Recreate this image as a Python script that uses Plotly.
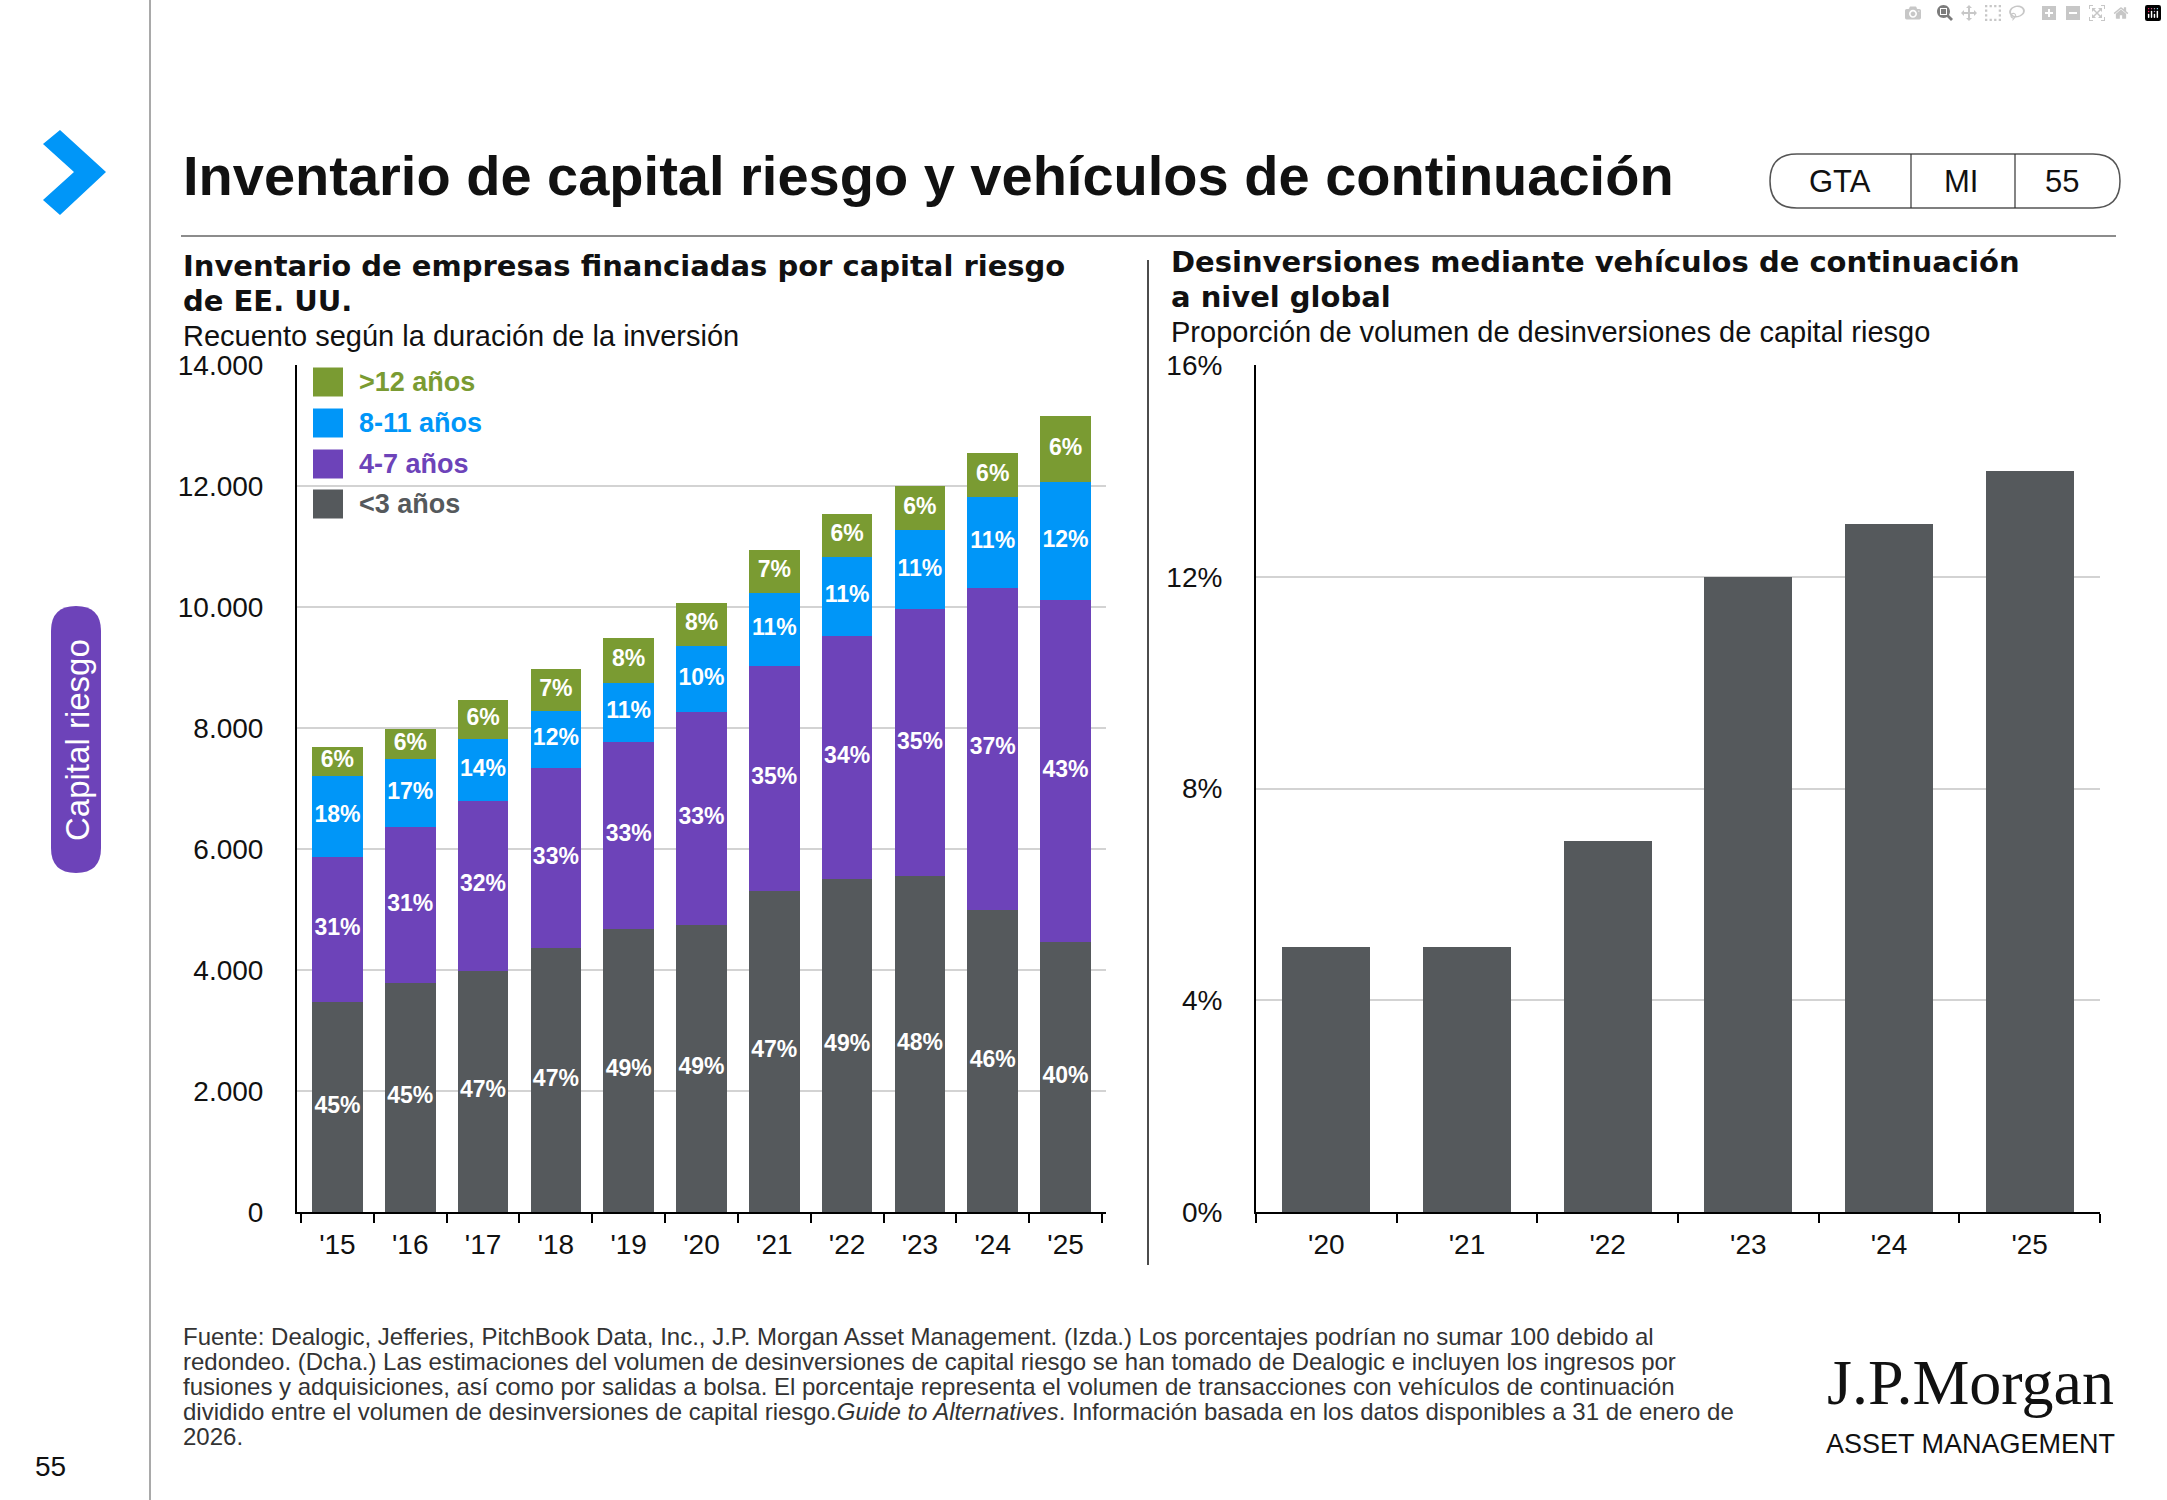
import numpy as np
import plotly.graph_objects as go

W, H = 2167, 1500

# ---------------- DATA ----------------
years_left = ["'15", "'16", "'17", "'18", "'19", "'20", "'21", "'22", "'23", "'24", "'25"]
lt3_vals = [3470, 3780, 3990, 4370, 4670, 4750, 5310, 5500, 5550, 5000, 4460]
y4_7_vals = [2400, 2590, 2810, 2970, 3100, 3510, 3720, 4020, 4410, 5320, 5650]
y8_11_vals = [1340, 1110, 1020, 940, 980, 1100, 1200, 1300, 1310, 1500, 1950]
gt12_vals = [480, 510, 650, 700, 730, 700, 710, 720, 730, 720, 1090]

lt3_lbl = ["45%", "45%", "47%", "47%", "49%", "49%", "47%", "49%", "48%", "46%", "40%"]
y4_7_lbl = ["31%", "31%", "32%", "33%", "33%", "33%", "35%", "34%", "35%", "37%", "43%"]
y8_11_lbl = ["18%", "17%", "14%", "12%", "11%", "10%", "11%", "11%", "11%", "11%", "12%"]
gt12_lbl = ["6%", "6%", "6%", "7%", "8%", "8%", "7%", "6%", "6%", "6%", "6%"]

series_names = ["<3 años", "4-7 años", "8-11 años", ">12 años"]
left_ticks = [0, 2000, 4000, 6000, 8000, 10000, 12000, 14000]
left_ticktext = ["0", "2.000", "4.000", "6.000", "8.000", "10.000", "12.000", "14.000"]

years_right = ["'20", "'21", "'22", "'23", "'24", "'25"]
cv_share = [5, 5, 7, 12, 13, 14]
right_ticks = [0, 4, 8, 12, 16]
right_ticktext = ["0%", "4%", "8%", "12%", "16%"]

# ---------------- STYLE ----------------
FONT = "Liberation Sans, Arial, sans-serif"
FONT_WIDE = "DejaVu Sans, Liberation Sans, Arial, sans-serif"
C_GRAY = "#55595c"
C_PURPLE = "#6d43b9"
C_BLUE = "#0096f8"
C_GREEN = "#7a9b32"
colors = [C_GRAY, C_PURPLE, C_BLUE, C_GREEN]


def X(p):
    return p / W


def Y(p):
    return 1 - p / H


fig = go.Figure()

stack = [lt3_vals, y4_7_vals, y8_11_vals, gt12_vals]
labels = [lt3_lbl, y4_7_lbl, y8_11_lbl, gt12_lbl]
base = np.zeros(len(years_left))
for vals, lbl, name, col in zip(stack, labels, series_names, colors):
    v = np.array(vals, dtype=float)
    fig.add_trace(go.Bar(x=years_left, y=v, name=name, marker=dict(color=col, line=dict(width=0)),
                         xaxis="x", yaxis="y", hoverinfo="skip"))
    fig.add_trace(go.Scatter(x=years_left, y=base + v / 2, mode="text", text=lbl,
                             texttemplate="<b>%{text}</b>",
                             textfont=dict(family=FONT, size=23, color="white"),
                             xaxis="x", yaxis="y", hoverinfo="skip", cliponaxis=False))
    base = base + v

fig.add_trace(go.Bar(x=years_right, y=cv_share, marker=dict(color=C_GRAY, line=dict(width=0)),
                     xaxis="x2", yaxis="y2", hoverinfo="skip", width=0.626))

axis_common = dict(showline=True, linecolor="black", linewidth=2, automargin=False,
                   tickfont=dict(family=FONT, size=28, color="#111"))

fig.update_layout(
    width=W, height=H, margin=dict(l=0, r=0, t=0, b=0, pad=0, autoexpand=False),
    paper_bgcolor="white", plot_bgcolor="white",
    showlegend=False, barmode="stack", bargap=0.306,
    font=dict(family=FONT, color="#111"),
    xaxis=dict(domain=[X(297), X(1106)], type="category", ticks="outside", tickson="boundaries",
               ticklen=9, tickwidth=2, tickcolor="black", ticklabelstandoff=6,
               showgrid=False, anchor="y", **axis_common),
    yaxis=dict(domain=[Y(1212), Y(365)], range=[0, 14000], tickvals=left_ticks, ticktext=left_ticktext,
               showgrid=True, gridcolor="#d3d3d3", gridwidth=1.5, ticks="", ticklabelstandoff=26,
               zeroline=False, anchor="x", **axis_common),
    xaxis2=dict(domain=[X(1256), X(2100)], type="category", ticks="outside", tickson="boundaries",
                ticklen=9, tickwidth=2, tickcolor="black", ticklabelstandoff=6,
                showgrid=False, anchor="y2", **axis_common),
    yaxis2=dict(domain=[Y(1212), Y(365)], range=[0, 16], tickvals=right_ticks, ticktext=right_ticktext,
                showgrid=True, gridcolor="#d3d3d3", gridwidth=1.5, ticks="", ticklabelstandoff=26,
                zeroline=False, anchor="x2", **axis_common),
)

shapes = []
ann = []


def line(x0, y0, x1, y1, color, width):
    shapes.append(dict(type="line", xref="paper", yref="paper", x0=X(x0), y0=Y(y0), x1=X(x1), y1=Y(y1),
                       line=dict(color=color, width=width), layer="above"))


def text(x, y, s, size, color="#111", bold=False, xanchor="left", family=FONT, textangle=0):
    ann.append(dict(xref="paper", yref="paper", x=X(x), y=Y(y), text=("<b>%s</b>" % s) if bold else s,
                    showarrow=False, xanchor=xanchor, yanchor="middle", textangle=textangle,
                    font=dict(family=family, size=size, color=color)))


# left vertical rule
line(150, 0, 150, H, "#8c8c8c", 1.5)
# title rule
line(181, 236, 2116, 236, "#8c8c8c", 2)
# divider between charts
line(1148, 260, 1148, 1265, "#111", 1.5)

# chevron
pts = [(60, 130), (106, 172), (60, 215), (43, 200), (74, 172), (43, 144)]
path = "M " + " L ".join("%f,%f" % (X(a), Y(b)) for a, b in pts) + " Z"
shapes.append(dict(type="path", xref="paper", yref="paper", path=path, fillcolor=C_BLUE,
                   line=dict(width=0)))


def rounded_rect(x0, y0, x1, y1, r, vertical=False):
    if not vertical:
        segs = [
            "M %f,%f" % (X(x0 + r), Y(y0)),
            "L %f,%f" % (X(x1 - r), Y(y0)),
            "Q %f,%f %f,%f" % (X(x1), Y(y0), X(x1), Y((y0 + y1) / 2)),
            "Q %f,%f %f,%f" % (X(x1), Y(y1), X(x1 - r), Y(y1)),
            "L %f,%f" % (X(x0 + r), Y(y1)),
            "Q %f,%f %f,%f" % (X(x0), Y(y1), X(x0), Y((y0 + y1) / 2)),
            "Q %f,%f %f,%f" % (X(x0), Y(y0), X(x0 + r), Y(y0)),
            "Z",
        ]
    else:
        segs = [
            "M %f,%f" % (X(x0), Y(y0 + r)),
            "Q %f,%f %f,%f" % (X(x0), Y(y0), X((x0 + x1) / 2), Y(y0)),
            "Q %f,%f %f,%f" % (X(x1), Y(y0), X(x1), Y(y0 + r)),
            "L %f,%f" % (X(x1), Y(y1 - r)),
            "Q %f,%f %f,%f" % (X(x1), Y(y1), X((x0 + x1) / 2), Y(y1)),
            "Q %f,%f %f,%f" % (X(x0), Y(y1), X(x0), Y(y1 - r)),
            "Z",
        ]
    return " ".join(segs)


# GTA pill
shapes.append(dict(type="path", xref="paper", yref="paper", path=rounded_rect(1770, 154, 2120, 208, 27),
                   line=dict(color="#555", width=1.5), fillcolor="rgba(0,0,0,0)"))
line(1911, 154, 1911, 208, "#333", 1.2)
line(2015, 154, 2015, 208, "#333", 1.2)
text(1840, 182, "GTA", 31, xanchor="center")
text(1961, 182, "MI", 31, xanchor="center")
text(2062, 182, "55", 31, xanchor="center")

# side tab
shapes.append(dict(type="path", xref="paper", yref="paper", path=rounded_rect(51, 606, 101, 873, 25, vertical=True),
                   line=dict(width=0), fillcolor=C_PURPLE))
text(77, 740, "Capital riesgo", 33, color="white", xanchor="center", textangle=-90)

# main title
text(181, 175, "Inventario de capital riesgo y vehículos de continuación", 56, bold=True)

# left subtitles
text(181, 266, "Inventario de empresas financiadas por capital riesgo", 29, bold=True, family=FONT_WIDE)
text(181, 301, "de EE. UU.", 29, bold=True, family=FONT_WIDE)
text(181, 336, "Recuento según la duración de la inversión", 29)

# right subtitles
text(1169, 262, "Desinversiones mediante vehículos de continuación", 29, bold=True, family=FONT_WIDE)
text(1169, 297, "a nivel global", 29, bold=True, family=FONT_WIDE)
text(1169, 332, "Proporción de volumen de desinversiones de capital riesgo", 29)

# manual legend (top to bottom)
leg_y = [382, 423, 464, 504]
for yy, name, col in zip(leg_y, series_names[::-1], colors[::-1]):
    shapes.append(dict(type="rect", xref="paper", yref="paper", x0=X(313), x1=X(343), y0=Y(yy - 14.5),
                       y1=Y(yy + 14.5), fillcolor=col, line=dict(width=0)))
    text(357, yy, name, 27, color=col, bold=True)

# footer
foot = [
    "Fuente: Dealogic, Jefferies, PitchBook Data, Inc., J.P. Morgan Asset Management. (Izda.) Los porcentajes podrían no sumar 100 debido al",
    "redondeo. (Dcha.) Las estimaciones del volumen de desinversiones de capital riesgo se han tomado de Dealogic e incluyen los ingresos por",
    "fusiones y adquisiciones, así como por salidas a bolsa. El porcentaje representa el volumen de transacciones con vehículos de continuación",
    "dividido entre el volumen de desinversiones de capital riesgo.<i>Guide to Alternatives</i>. Información basada en los datos disponibles a 31 de enero de",
    "2026.",
]
for i, s in enumerate(foot):
    text(181, 1336 + 25 * i, s, 24, color="#333")

# page number
text(50, 1466, "55", 28, xanchor="center")

# logo
text(1970, 1382, "J.P.Morgan", 64, color="#111", xanchor="center", family="Liberation Serif, Times New Roman, serif")
text(1970, 1444, "ASSET MANAGEMENT", 27, color="#111", xanchor="center")

fig.update_layout(shapes=shapes, annotations=ann)

fig.write_html("out.html", config={"responsive": False},
               post_script="document.body.style.margin='0';")
